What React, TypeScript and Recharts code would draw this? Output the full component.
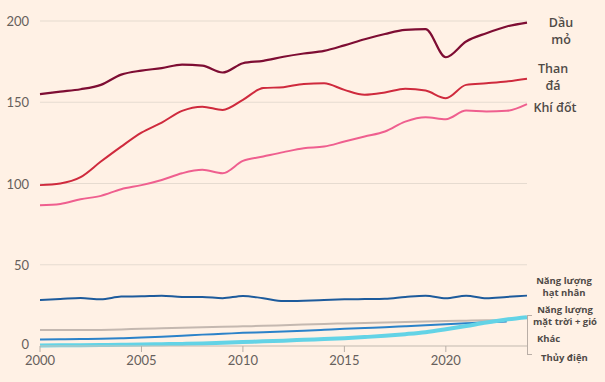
import React from 'react';
import { LineChart, Line, XAxis, YAxis, CartesianGrid } from 'recharts';

const years = [2000, 2001, 2002, 2003, 2004, 2005, 2006, 2007, 2008, 2009, 2010, 2011, 2012, 2013, 2014, 2015, 2016, 2017, 2018, 2019, 2020, 2021, 2022, 2023, 2024];

const oil = [155, 156.5, 158, 160.7, 167, 169.5, 171, 173.2, 172.5, 168.3, 174, 175.5, 178, 180, 181.6, 185, 188.8, 192, 194.5, 195, 177.7, 187.4, 192.5, 196.6, 199];
const coal = [99, 100, 103.9, 113.5, 122.7, 131.3, 137.5, 144.7, 147.3, 145.3, 151.5, 158.7, 159.3, 161.3, 161.7, 157.6, 154.6, 156, 158.3, 157.2, 152.5, 160.7, 161.7, 162.8, 164.5];
const gas = [86.6, 87.4, 90.3, 92.4, 96.5, 99, 102.2, 106.3, 108.4, 106.3, 113.9, 116.6, 119.3, 121.7, 122.7, 125.8, 128.9, 132, 138.1, 140.8, 139.6, 144.9, 144.3, 144.7, 148.8];
const nuclear = [28.3, 28.9, 29.6, 28.7, 30.4, 30.6, 31, 30.2, 30.2, 29.4, 30.8, 29.4, 27.7, 27.9, 28.3, 28.7, 28.9, 29.1, 30.2, 31, 29.4, 31, 29.4, 30.2, 31];
const other = [9.8, 9.8, 9.8, 9.9, 10.2, 10.6, 10.9, 11.2, 11.5, 11.8, 12.1, 12.4, 12.8, 13.2, 13.6, 13.9, 14.2, 14.5, 14.8, 15.1, 15.4, 15.6, 15.8, 16, null];
const hydro = [4, 4.1, 4.3, 4.5, 4.8, 5.2, 5.7, 6.3, 7, 7.5, 8.1, 8.5, 8.9, 9.4, 10, 10.6, 11.1, 11.6, 12.2, 12.8, 13.4, 14, 14.6, 15, null];
const solarWind = [0.3, 0.4, 0.5, 0.6, 0.7, 0.9, 1.1, 1.3, 1.6, 2, 2.4, 2.9, 3.3, 3.8, 4.3, 4.8, 5.5, 6.3, 7.3, 8.5, 10.3, 12.3, 14.5, 16.3, 17.7];

const yTicks = [0, 50, 100, 150, 200];
const xTicks = [2000, 2005, 2010, 2015, 2020];

const data = years.map((year, i) => ({
  year,
  oil: oil[i],
  coal: coal[i],
  gas: gas[i],
  nuclear: nuclear[i],
  other: other[i],
  hydro: hydro[i],
  solarWind: solarWind[i],
}));

const bg = '#FFF1E5';
const labelColor = '#4f4a47';
const tickColor = '#66605c';

// y labels sit right-aligned just left of the plot
const YTick = (props: any) => (
  <text x={29} y={props.y} dy={props.payload.value === 0 ? 3 : 5} textAnchor="end" fill={tickColor} fontSize={13} fontFamily="Lato">
    {props.payload.value}
  </text>
);

const bigLabel: React.CSSProperties = {
  position: 'absolute',
  fontFamily: 'Open Sans',
  fontWeight: 600,
  fontSize: 12.5,
  color: labelColor,
  textAlign: 'center',
  lineHeight: '17px',
};

const smallLabel: React.CSSProperties = {
  position: 'absolute',
  fontFamily: 'Open Sans',
  fontWeight: 700,
  fontSize: 9.5,
  color: labelColor,
  textAlign: 'center',
  lineHeight: '12px',
  whiteSpace: 'nowrap',
};

export default function App() {
  return (
    <div style={{ position: 'fixed', left: 0, top: 0, width: 605, height: 382, background: bg, overflow: 'hidden' }}>
      <LineChart width={605} height={382} data={data} margin={{ top: 21, right: 78, bottom: 0, left: 0 }}>
        <CartesianGrid vertical={false} stroke="#e6dbd0" strokeWidth={1.2} />
        <XAxis
          dataKey="year"
          type="number"
          domain={[2000, 2024]}
          ticks={xTicks}
          height={36}
          axisLine={{ stroke: '#cfc4ba' }}
          tickLine={{ stroke: '#b8aea6' }}
          tickSize={6}
          tickMargin={4}
          tick={{ fill: tickColor, fontSize: 13, fontFamily: 'Lato' }}
        />
        <YAxis domain={[0, 200]} ticks={yTicks} width={40} axisLine={false} tickLine={false} tick={<YTick />} />
        <Line dataKey="other" stroke="#c4b8b0" strokeWidth={2} dot={false} type="monotone" isAnimationActive={false} />
        <Line dataKey="hydro" stroke="#2b82c9" strokeWidth={2} dot={false} type="monotone" isAnimationActive={false} />
        <Line dataKey="solarWind" stroke="#63d3e6" strokeWidth={4} dot={false} type="monotone" isAnimationActive={false} />
        <Line dataKey="nuclear" stroke="#1d5b9c" strokeWidth={2} dot={false} type="monotone" isAnimationActive={false} />
        <Line dataKey="gas" stroke="#ef5f8f" strokeWidth={2} dot={false} type="monotone" isAnimationActive={false} />
        <Line dataKey="coal" stroke="#cf2a3d" strokeWidth={2} dot={false} type="monotone" isAnimationActive={false} />
        <Line dataKey="oil" stroke="#7e0d33" strokeWidth={2.2} dot={false} type="monotone" isAnimationActive={false} />
      </LineChart>

      <div style={{ ...bigLabel, left: 536, top: 14, width: 50 }}>Dầu<br />mỏ</div>
      <div style={{ ...bigLabel, left: 528, top: 60, width: 50 }}>Than<br />đá</div>
      <div style={{ ...bigLabel, left: 530, top: 99, width: 50 }}>Khí đốt</div>

      <div style={{ ...smallLabel, left: 534, top: 275, width: 60 }}>Năng lượng<br />hạt nhân</div>
      <div style={{ ...smallLabel, left: 530, top: 304, width: 70 }}>Năng lượng<br />mặt trời + gió</div>
      <div style={{ ...smallLabel, left: 537, top: 333, textAlign: 'left' }}>Khác</div>
      <div style={{ ...smallLabel, left: 541, top: 352, textAlign: 'left' }}>Thủy điện</div>

      <div style={{ position: 'absolute', left: 527, top: 315, width: 4, height: 38, borderLeft: '1.2px solid #b9aea6', borderTop: '1.2px solid #b9aea6', borderBottom: '1.2px solid #b9aea6' }} />
    </div>
  );
}
